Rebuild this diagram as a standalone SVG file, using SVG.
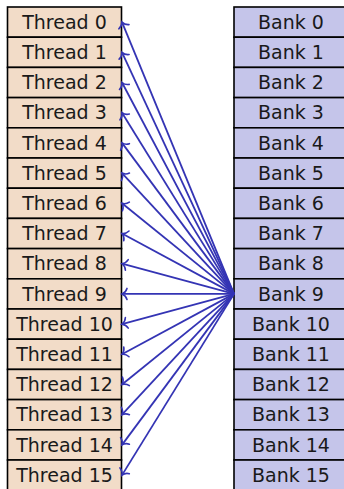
<svg xmlns="http://www.w3.org/2000/svg" width="344" height="489" viewBox="0 0 344 489">
<defs>
<style>
.thread rect{fill:#f2dcc8;stroke:#000;stroke-width:1.6}
.bank rect{fill:#c5c5ea;stroke:#000;stroke-width:1.6}
text{font-family:"DejaVu Sans",sans-serif;font-size:19px;fill:#1a1a1a;text-anchor:middle}
.conn line{stroke:#3434b4;stroke-width:1.8;fill:none}
</style>
<marker id="ah" markerUnits="userSpaceOnUse" markerWidth="14" markerHeight="14" viewBox="-7 -7 14 14" refX="0" refY="0" orient="auto" overflow="visible">
<path d="M-5,-5.5 C-4,-2.2 -1.7,-0.7 0,0 C-1.7,0.7 -4,2.2 -5,5.5" fill="none" stroke="#3434b4" stroke-width="1.6" stroke-linecap="round"/>
</marker>
</defs>
<g id="threads">
<g id="thread0" class="thread"><rect x="7.5" y="7" width="114" height="30.2"/><text x="64.5" y="28.8">Thread 0</text></g>
<g id="thread1" class="thread"><rect x="7.5" y="37.2" width="114" height="30.2"/><text x="64.5" y="59">Thread 1</text></g>
<g id="thread2" class="thread"><rect x="7.5" y="67.4" width="114" height="30.2"/><text x="64.5" y="89.2">Thread 2</text></g>
<g id="thread3" class="thread"><rect x="7.5" y="97.6" width="114" height="30.2"/><text x="64.5" y="119.4">Thread 3</text></g>
<g id="thread4" class="thread"><rect x="7.5" y="127.8" width="114" height="30.2"/><text x="64.5" y="149.6">Thread 4</text></g>
<g id="thread5" class="thread"><rect x="7.5" y="158" width="114" height="30.2"/><text x="64.5" y="179.8">Thread 5</text></g>
<g id="thread6" class="thread"><rect x="7.5" y="188.2" width="114" height="30.2"/><text x="64.5" y="210">Thread 6</text></g>
<g id="thread7" class="thread"><rect x="7.5" y="218.4" width="114" height="30.2"/><text x="64.5" y="240.2">Thread 7</text></g>
<g id="thread8" class="thread"><rect x="7.5" y="248.6" width="114" height="30.2"/><text x="64.5" y="270.4">Thread 8</text></g>
<g id="thread9" class="thread"><rect x="7.5" y="278.8" width="114" height="30.2"/><text x="64.5" y="300.6">Thread 9</text></g>
<g id="thread10" class="thread"><rect x="7.5" y="309" width="114" height="30.2"/><text x="64.5" y="330.8">Thread 10</text></g>
<g id="thread11" class="thread"><rect x="7.5" y="339.2" width="114" height="30.2"/><text x="64.5" y="361">Thread 11</text></g>
<g id="thread12" class="thread"><rect x="7.5" y="369.4" width="114" height="30.2"/><text x="64.5" y="391.2">Thread 12</text></g>
<g id="thread13" class="thread"><rect x="7.5" y="399.6" width="114" height="30.2"/><text x="64.5" y="421.4">Thread 13</text></g>
<g id="thread14" class="thread"><rect x="7.5" y="429.8" width="114" height="30.2"/><text x="64.5" y="451.6">Thread 14</text></g>
<g id="thread15" class="thread"><rect x="7.5" y="460" width="114" height="30.2"/><text x="64.5" y="481.8">Thread 15</text></g>
</g>
<g id="banks">
<g id="bank0" class="bank"><rect x="234" y="7" width="114" height="30.2"/><text x="291" y="28.8">Bank 0</text></g>
<g id="bank1" class="bank"><rect x="234" y="37.2" width="114" height="30.2"/><text x="291" y="59">Bank 1</text></g>
<g id="bank2" class="bank"><rect x="234" y="67.4" width="114" height="30.2"/><text x="291" y="89.2">Bank 2</text></g>
<g id="bank3" class="bank"><rect x="234" y="97.6" width="114" height="30.2"/><text x="291" y="119.4">Bank 3</text></g>
<g id="bank4" class="bank"><rect x="234" y="127.8" width="114" height="30.2"/><text x="291" y="149.6">Bank 4</text></g>
<g id="bank5" class="bank"><rect x="234" y="158" width="114" height="30.2"/><text x="291" y="179.8">Bank 5</text></g>
<g id="bank6" class="bank"><rect x="234" y="188.2" width="114" height="30.2"/><text x="291" y="210">Bank 6</text></g>
<g id="bank7" class="bank"><rect x="234" y="218.4" width="114" height="30.2"/><text x="291" y="240.2">Bank 7</text></g>
<g id="bank8" class="bank"><rect x="234" y="248.6" width="114" height="30.2"/><text x="291" y="270.4">Bank 8</text></g>
<g id="bank9" class="bank"><rect x="234" y="278.8" width="114" height="30.2"/><text x="291" y="300.6">Bank 9</text></g>
<g id="bank10" class="bank"><rect x="234" y="309" width="114" height="30.2"/><text x="291" y="330.8">Bank 10</text></g>
<g id="bank11" class="bank"><rect x="234" y="339.2" width="114" height="30.2"/><text x="291" y="361">Bank 11</text></g>
<g id="bank12" class="bank"><rect x="234" y="369.4" width="114" height="30.2"/><text x="291" y="391.2">Bank 12</text></g>
<g id="bank13" class="bank"><rect x="234" y="399.6" width="114" height="30.2"/><text x="291" y="421.4">Bank 13</text></g>
<g id="bank14" class="bank"><rect x="234" y="429.8" width="114" height="30.2"/><text x="291" y="451.6">Bank 14</text></g>
<g id="bank15" class="bank"><rect x="234" y="460" width="114" height="30.2"/><text x="291" y="481.8">Bank 15</text></g>
</g>
<g id="connectors" class="conn">
<line x1="234" y1="293.9" x2="122" y2="22.1" marker-end="url(#ah)"/>
<line x1="234" y1="293.9" x2="122" y2="52.3" marker-end="url(#ah)"/>
<line x1="234" y1="293.9" x2="122" y2="82.5" marker-end="url(#ah)"/>
<line x1="234" y1="293.9" x2="122" y2="112.7" marker-end="url(#ah)"/>
<line x1="234" y1="293.9" x2="122" y2="142.9" marker-end="url(#ah)"/>
<line x1="234" y1="293.9" x2="122" y2="173.1" marker-end="url(#ah)"/>
<line x1="234" y1="293.9" x2="122" y2="203.3" marker-end="url(#ah)"/>
<line x1="234" y1="293.9" x2="122" y2="233.5" marker-end="url(#ah)"/>
<line x1="234" y1="293.9" x2="122" y2="263.7" marker-end="url(#ah)"/>
<line x1="234" y1="293.9" x2="122" y2="293.9" marker-end="url(#ah)"/>
<line x1="234" y1="293.9" x2="122" y2="324.1" marker-end="url(#ah)"/>
<line x1="234" y1="293.9" x2="122" y2="354.3" marker-end="url(#ah)"/>
<line x1="234" y1="293.9" x2="122" y2="384.5" marker-end="url(#ah)"/>
<line x1="234" y1="293.9" x2="122" y2="414.7" marker-end="url(#ah)"/>
<line x1="234" y1="293.9" x2="122" y2="444.9" marker-end="url(#ah)"/>
<line x1="234" y1="293.9" x2="122" y2="475.1" marker-end="url(#ah)"/>
</g>
</svg>
